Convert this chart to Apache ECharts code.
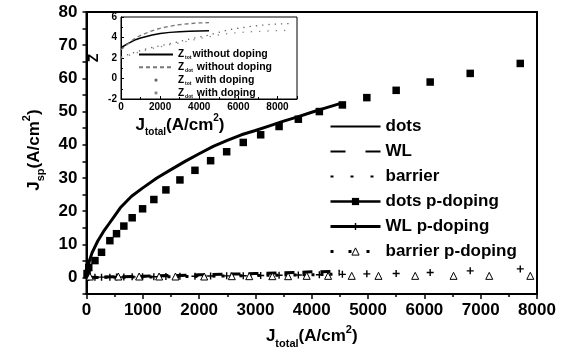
<!DOCTYPE html>
<html>
<head>
<meta charset="utf-8">
<script src="https://cdn.jsdelivr.net/npm/echarts@6/dist/echarts.min.js"></script>
<style>html,body{margin:0;padding:0;background:#fff;}#c{width:571px;height:354px;}</style>
</head>
<body>
<div id="c"></div>
<script>
// ---- main plot data ----
const dotsJ = [0,20,50,100,200,300,400,500,600,800,1000,1250,1500,1750,2000,2250,2500,2750,3000,3250,3500,3750,4000,4250,4500];
const dotsY = [0,2.5,5,7.5,11,13.8,16.2,18.6,21,24.5,27,30,32.5,35,37.3,39.5,41.3,43,44.3,45.7,47.1,48.4,49.8,51.1,52.4];
const wlJ = [0,500,1000,1500,2000,2500,3000,3500,4000,4500];
const wlY = [0,0.2,0.4,0.6,0.8,1.0,1.2,1.4,1.7,1.9];
const barrierJ = [0,1000,2000,3000,4000,4500];
const barrierY = [0,0.15,0.35,0.6,0.85,1.0];
const pdotsJ = [10,40,150,267,415,533,663,811,996,1196,1410,1659,1926,2204,2489,2784,3093,3420,3762,4135,4544,4978,5499,6103,6814,7703];
const pdotsY = [1.2,3,5.1,7.6,11.1,13.2,15.5,18.0,20.7,23.5,26.4,29.4,32.3,35.2,37.9,40.7,43.0,45.5,47.7,50.0,52.0,54.2,56.4,58.9,61.5,64.5];
const pwlY = [0,0,0.05,0.1,0.1,0.15,0.15,0.2,0.2,0.25,0.3,0.35,0.4,0.45,0.5,0.55,0.6,0.7,0.75,0.85,0.95,1.1,1.2,1.5,2.0,2.6];
const pbarJ = [60,565,935,1290,1580,2090,2580,2890,3300,3580,3910,4290,4710,5185,5837,6518,7152,7881];
const pbarY = [0.3,0.3,0.3,0.3,0.3,0.3,0.4,0.4,0.4,0.4,0.5,0.5,0.5,0.5,0.5,0.5,0.5,0.5];
const xTicksMain = [0,1000,2000,3000,4000,5000,6000,7000,8000];
const yTicksMain = [0,10,20,30,40,50,60,70,80];

// ---- inset data ----
const ztotWoJ = [0,300,700,1000,1300,1600,2000,2500,3000,3500,4000,4500];
const ztotWoY = [3.0,3.35,3.75,3.95,4.1,4.25,4.4,4.5,4.57,4.62,4.64,4.65];
const zdotWoJ = [0,300,700,1000,1500,2000,2500,3000,3500,4000,4500];
const zdotWoY = [2.8,3.3,3.9,4.2,4.6,4.9,5.1,5.25,5.35,5.42,5.45];
const zDJ = [0,700,1400,2400,3400,4300,4800,5500,6500,7700,8600];
const ztotDY = [2.1,2.55,2.95,3.35,3.8,4.15,4.4,4.75,5.05,5.3,5.35];
const zdotDY = [2.0,2.45,2.85,3.25,3.65,4.0,4.2,4.4,4.55,4.65,4.7];

const zip = (a, b) => a.map((v, i) => [v, b[i]]);
const FONT = 'Liberation Sans, Arial, sans-serif';
const PLUS = 'path://M4,0H6V4H10V6H6V10H4V6H0V4H4Z';

const chart = echarts.init(document.getElementById('c'), null, {renderer: 'canvas'});

const bigRich = {
  j: {fontSize: 17, fontWeight: 'bold', fontFamily: FONT, color: '#000', lineHeight: 25},
  s: {fontSize: 11, fontWeight: 'bold', fontFamily: FONT, color: '#000', lineHeight: 12, verticalAlign: 'bottom'},
  p: {fontSize: 11, fontWeight: 'bold', fontFamily: FONT, color: '#000', lineHeight: 12, verticalAlign: 'top'}
};
const insetRich = {
  j: {fontSize: 17, fontWeight: 'bold', fontFamily: FONT, color: '#000', lineHeight: 24},
  s: {fontSize: 10, fontWeight: 'bold', fontFamily: FONT, color: '#000', lineHeight: 12, verticalAlign: 'bottom'},
  p: {fontSize: 10, fontWeight: 'bold', fontFamily: FONT, color: '#000', lineHeight: 12, verticalAlign: 'top'}
};
const smallRich = {
  z: {fontSize: 10, fontWeight: 'bold', fontFamily: FONT, color: '#000', lineHeight: 12},
  s: {fontSize: 5, fontWeight: 'bold', fontFamily: FONT, color: '#000', lineHeight: 6, verticalAlign: 'bottom', padding: [0, 1, 0, 1]},
  t: {fontSize: 10.5, fontWeight: 'bold', fontFamily: FONT, color: '#000', lineHeight: 12}
};
const insetNames = {
  'Ztot without doping': '{z|Z}{s|tot}{t|without doping}',
  'Zdot without doping': '{z|Z}{s|dot}{t| without doping}',
  'Ztot with doping': '{z|Z}{s|tot}{t| with doping}',
  'Zdot with doping': '{z|Z}{s|dot}{t| with doping}'
};

const axisCommon = {
  splitLine: {show: false},
  axisLine: {show: true, onZero: false, lineStyle: {color: '#000', width: 2}},
  axisTick: {show: true, inside: false, length: 5, lineStyle: {color: '#000', width: 1.5}},
  axisLabel: {color: '#000', fontSize: 17, fontWeight: 'bold', fontFamily: FONT}
};

const option = {
  animation: false,
  backgroundColor: '#fff',
  grid: [
    {left: 86.5, right: 34, top: 12, bottom: 58, show: true, borderColor: '#000', borderWidth: 2, backgroundColor: 'transparent'},
    {left: 121, top: 17, width: 176, height: 82, show: true, borderColor: '#000', borderWidth: 1, backgroundColor: '#fff', z: 5}
  ],
  xAxis: [
    Object.assign({}, axisCommon, {
      gridIndex: 0, type: 'value', min: 0, max: 8000, interval: 1000,
      minorTick: {show: true, splitNumber: 2, length: 3, lineStyle: {color: '#000', width: 1.5}},
      axisLabel: Object.assign({}, axisCommon.axisLabel, {margin: 8, formatter: v => String(v)}),
      name: '{j|J}{s|total}{j|(A/cm}{p|2}{j|)}',
      nameLocation: 'middle', nameGap: 20,
      nameTextStyle: {rich: bigRich}
    }),
    {
      gridIndex: 1, type: 'value', min: 0, max: 9000, interval: 2000, z: 6,
      splitLine: {show: false},
      axisLine: {show: true, onZero: false, lineStyle: {color: '#000', width: 1}},
      axisTick: {show: true, inside: true, length: 3, lineStyle: {color: '#000', width: 1}},
      minorTick: {show: true, splitNumber: 2, length: 2, lineStyle: {color: '#000', width: 1}},
      axisLabel: {color: '#000', fontSize: 10, fontWeight: 'bold', fontFamily: FONT, margin: 3, showMaxLabel: false,
        formatter: v => (v % 2000 === 0 ? String(v) : '')},
      name: '{j|J}{s|total}{j|(A/cm}{p|2}{j|)}',
      nameLocation: 'middle', nameGap: 4,
      nameTextStyle: {rich: insetRich, padding: [0, 58, 0, 0]}
    }
  ],
  yAxis: [
    Object.assign({}, axisCommon, {
      gridIndex: 0, type: 'value', min: -5, max: 80, interval: 5,
      axisTick: {show: true, inside: false, length: 4, lineStyle: {color: '#000', width: 1.5}},
      axisLabel: Object.assign({}, axisCommon.axisLabel, {margin: 9, formatter: v => (v % 10 === 0 ? String(v) : '')}),
      name: '{j|J}{s|sp}{j|(A/cm}{p|2}{j|)}',
      nameLocation: 'middle', nameGap: 40, nameRotate: 90,
      nameTextStyle: {rich: bigRich, padding: [0, 0, 0, 6]}
    }),
    {
      gridIndex: 1, type: 'value', min: -2, max: 6, interval: 2, z: 6,
      splitLine: {show: false},
      axisLine: {show: true, onZero: false, lineStyle: {color: '#000', width: 1}},
      axisTick: {show: true, inside: true, length: 3, lineStyle: {color: '#000', width: 1}},
      minorTick: {show: true, splitNumber: 2, length: 2, lineStyle: {color: '#000', width: 1}},
      axisLabel: {color: '#000', fontSize: 10, fontWeight: 'bold', fontFamily: FONT, margin: 4},
      name: 'Z', nameLocation: 'middle', nameGap: 20, nameRotate: 90,
      nameTextStyle: {color: '#000', fontSize: 14, fontWeight: 'bold', fontFamily: FONT}
    }
  ],
  legend: [
    {
      orient: 'vertical', left: 329, top: 118, itemWidth: 50, itemHeight: 9, itemGap: 8, padding: 0,
      textStyle: {color: '#000', fontSize: 17, fontWeight: 'bold', fontFamily: FONT},
      data: [
        {name: 'dots', itemStyle: {opacity: 0}},
        {name: 'WL', lineStyle: {type: [15, 20]}, itemStyle: {opacity: 0}},
        {name: 'barrier', lineStyle: {type: [3, 17]}, itemStyle: {opacity: 0}},
        {name: 'dots p-doping', lineStyle: {width: 2.5, opacity: 1, type: 'solid', color: '#000'}},
        {name: 'WL p-doping', lineStyle: {width: 3, opacity: 1, type: 'solid', color: '#000'}},
        {name: 'barrier p-doping', lineStyle: {width: 3, opacity: 1, type: [3, 15], color: '#000'},
          itemStyle: {color: '#fff', borderColor: '#000', borderWidth: 1}}
      ]
    },
    {
      orient: 'vertical', left: 138, top: 49, itemWidth: 34, itemHeight: 4, itemGap: 1.3, padding: 0, z: 8,
      textStyle: {rich: smallRich},
      formatter: name => insetNames[name],
      data: [
        {name: 'Ztot without doping', itemStyle: {opacity: 0}},
        {name: 'Zdot without doping', itemStyle: {opacity: 0}},
        {name: 'Ztot with doping', lineStyle: {opacity: 0}},
        {name: 'Zdot with doping', lineStyle: {opacity: 0}}
      ]
    }
  ],
  series: [
    {name: 'dots', type: 'line', xAxisIndex: 0, yAxisIndex: 0, symbol: 'none', data: zip(dotsJ, dotsY),
      lineStyle: {color: '#000', width: 3}, itemStyle: {color: '#000'}},
    {name: 'WL', type: 'line', xAxisIndex: 0, yAxisIndex: 0, symbol: 'none', data: zip(wlJ, wlY),
      lineStyle: {color: '#000', width: 3, type: [10, 8]}, itemStyle: {color: '#000'}},
    {name: 'barrier', type: 'line', xAxisIndex: 0, yAxisIndex: 0, symbol: 'none', data: zip(barrierJ, barrierY),
      lineStyle: {color: '#000', width: 3, type: [3, 6]}, itemStyle: {color: '#000'}},
    {name: 'dots p-doping', type: 'line', xAxisIndex: 0, yAxisIndex: 0, symbol: 'rect', symbolSize: 7.5,
      showSymbol: true, data: zip(pdotsJ, pdotsY),
      lineStyle: {color: '#000', width: 2, opacity: 0}, itemStyle: {color: '#000'}},
    {name: 'WL p-doping', type: 'line', xAxisIndex: 0, yAxisIndex: 0, symbol: PLUS, symbolSize: 7,
      showSymbol: true, data: zip(pdotsJ, pwlY),
      lineStyle: {color: '#000', width: 2, opacity: 0}, itemStyle: {color: '#000'}},
    {name: 'barrier p-doping', type: 'line', xAxisIndex: 0, yAxisIndex: 0, symbol: 'triangle', symbolSize: 7,
      showSymbol: true, data: zip(pbarJ, pbarY),
      lineStyle: {color: '#000', width: 2, opacity: 0}, itemStyle: {color: '#fff', borderColor: '#000', borderWidth: 1}},

    {name: 'Ztot without doping', type: 'line', xAxisIndex: 1, yAxisIndex: 1, symbol: 'none', z: 7,
      data: zip(ztotWoJ, ztotWoY), lineStyle: {color: '#000', width: 1.5}, itemStyle: {color: '#000'}},
    {name: 'Zdot without doping', type: 'line', xAxisIndex: 1, yAxisIndex: 1, symbol: 'none', z: 7,
      data: zip(zdotWoJ, zdotWoY), lineStyle: {color: '#777', width: 1.3, type: [4, 3]}, itemStyle: {color: '#777'}},
    {name: 'Ztot with doping', type: 'line', xAxisIndex: 1, yAxisIndex: 1, symbol: 'circle', symbolSize: 2, showSymbol: false, z: 7,
      data: zip(zDJ, ztotDY), lineStyle: {color: '#666', width: 1.3, type: [1.3, 5]}, itemStyle: {color: '#666'}},
    {name: 'Zdot with doping', type: 'line', xAxisIndex: 1, yAxisIndex: 1, symbol: 'circle', symbolSize: 2, showSymbol: false, z: 7,
      data: zip(zDJ, zdotDY), lineStyle: {color: '#888', width: 1.3, type: [1.3, 7]}, itemStyle: {color: '#888'}}
  ]
};
chart.setOption(option);
</script>
</body>
</html>
